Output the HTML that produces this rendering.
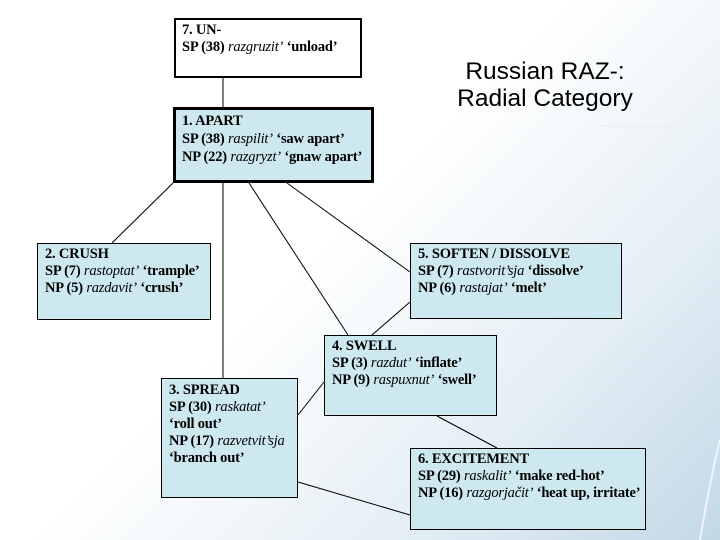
<!DOCTYPE html>
<html><head><meta charset="utf-8"><style>
html,body{margin:0;padding:0}
body{width:720px;height:540px;position:relative;overflow:hidden;
background:linear-gradient(135deg,#ffffff 0%,#ffffff 45%,#e3eef5 75%,#c3d8e7 100%);
font-family:"Liberation Serif",serif;}
.b{position:absolute;box-sizing:border-box;border:1px solid #000;background:#cde9ef;
font-size:14.5px;line-height:17px;padding:2px 7px;color:#000;letter-spacing:-0.2px;white-space:nowrap}
.b b{font-weight:bold}
i{font-style:italic}
svg{position:absolute;left:0;top:0}
.t{position:absolute;left:410px;width:270px;top:58px;text-align:center;font-family:"Liberation Sans",sans-serif;font-size:24.5px;line-height:27px;color:#000}
</style></head><body>
<svg width="720" height="540">
<g stroke="#000" stroke-width="1" fill="none">
<line x1="223" y1="78" x2="223" y2="107"/>
<line x1="173" y1="183" x2="112" y2="243"/>
<line x1="223" y1="183" x2="223" y2="378"/>
<line x1="249" y1="183" x2="348" y2="335"/>
<line x1="287" y1="183" x2="410" y2="272"/>
<line x1="372" y1="335" x2="410" y2="302"/>
<line x1="298" y1="415" x2="324" y2="382"/>
<line x1="437" y1="416" x2="497" y2="448"/>
<line x1="298" y1="482" x2="410" y2="515"/>
</g>
<line x1="600" y1="126" x2="675" y2="126" stroke="#e6eef2" stroke-width="1"/>
<path d="M700 540 Q710 480 720 440" stroke="#ffffff" stroke-width="2" fill="none" opacity="0.7"/>
</svg>
<div class="b" style="left:174px;top:18px;width:188px;height:60px;background:#fff;border-width:2px;padding:2px 6px"><b>7. UN-</b><br><b>SP (38)</b> <i>razgruzit’</i> <b>‘unload’</b></div>
<div class="b" style="left:173px;top:107px;width:201px;height:76px;border-width:3px;padding:2px 6px;line-height:18px"><b>1. APART</b><br><b>SP (38)</b> <i>raspilit’</i> <b>‘saw apart’</b><br><b>NP (22)</b> <i>razgryzt’</i> <b>‘gnaw apart’</b></div>
<div class="b" style="left:37px;top:243px;width:174px;height:77px"><b>2. CRUSH</b><br><b>SP (7)</b> <i>rastoptat’</i> <b>‘trample’</b><br><b>NP (5)</b> <i>razdavit’</i> <b>‘crush’</b></div>
<div class="b" style="left:410px;top:243px;width:212px;height:76px"><b>5. SOFTEN / DISSOLVE</b><br><b>SP (7)</b> <i>rastvorit’sja</i> <b>‘dissolve’</b><br><b>NP (6)</b> <i>rastajat’</i> <b>‘melt’</b></div>
<div class="b" style="left:324px;top:335px;width:173px;height:81px"><b>4. SWELL</b><br><b>SP (3)</b> <i>razdut’</i> <b>‘inflate’</b><br><b>NP (9)</b> <i>raspuxnut’</i> <b>‘swell’</b></div>
<div class="b" style="left:161px;top:378px;width:137px;height:120px;padding-top:3px"><b>3. SPREAD</b><br><b>SP (30)</b> <i>raskatat’</i><br><b>‘roll out’</b><br><b>NP (17)</b> <i>razvetvit’sja</i><br><b>‘branch out’</b></div>
<div class="b" style="left:410px;top:448px;width:236px;height:82px"><b>6. EXCITEMENT</b><br><b>SP (29)</b> <i>raskalit’</i> <b>‘make red-hot’</b><br><b>NP (16)</b> <i>razgorjačit’</i> <b>‘heat up, irritate’</b></div>
<div class="t">Russian RAZ-:<br>Radial Category</div>
</body></html>
